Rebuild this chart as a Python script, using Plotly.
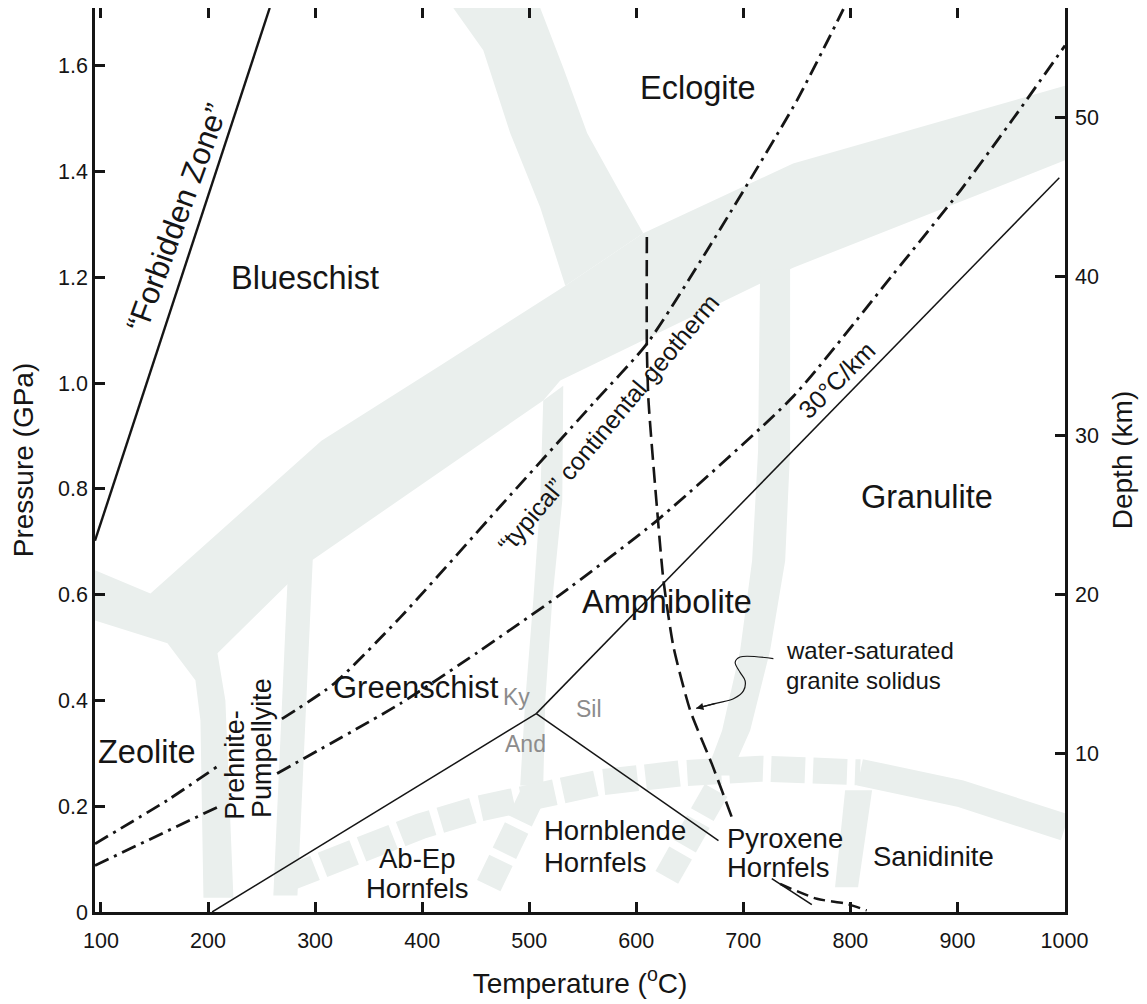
import plotly.graph_objects as go

# ---------------- axes ----------------
T_RANGE = [94.4, 1000.5]
P_RANGE = [0, 1.709]
KM_PER_GPA = 33.28
T_TICKS = [100, 200, 300, 400, 500, 600, 700, 800, 900, 1000]
P_TICKS = [0, 0.2, 0.4, 0.6, 0.8, 1.0, 1.2, 1.4, 1.6]
P_TICKTEXT = ["0", "0.2", "0.4", "0.6", "0.8", "1.0", "1.2", "1.4", "1.6"]
DEPTH_TICKS = [10, 20, 30, 40, 50]

# ---------------- curves (T in degC, P in GPa); None = gap behind a label ----------------
forbidden_T = [94.4, 257.6]
forbidden_P = [0.702, 1.709]

geo_typical_T = [94.4, 161.8, 210.0, None, 269.0, 317.3, 379.6, 473.0, 560.0, 609.9, 669.0, 750.0, 793.5]
geo_typical_P = [0.129, 0.211, 0.277, None, 0.365, 0.431, 0.557, 0.767, 0.962, 1.074, 1.260, 1.534, 1.707]

geo_30_T = [94.4, 208.5, None, 264.5, 379.6, 451.2, 529.0, 619.3, 746.8, 840.2, 902.4, 952.2, 1000.5]
geo_30_P = [0.088, 0.198, None, 0.262, 0.394, 0.490, 0.600, 0.740, 0.975, 1.206, 1.363, 1.500, 1.638]

ky_and_T = [203.8, 506.6]
ky_and_P = [0.0, 0.375]
ky_sil_T = [506.6, 995.2]
ky_sil_P = [0.375, 1.388]
and_sil_T = [506.6, 676.8]
and_sil_P = [0.375, 0.135]

solidus_T = [609.9, 609.9, 611.4, 619.3, 625.4, 634.8, 650.4, 670.6, 689.3]
solidus_P = [1.276, 1.068, 0.967, 0.765, 0.627, 0.501, 0.381, 0.280, 0.179]
solidus_low_T = [734.4, 768.7, 796.7, 815.3]
solidus_low_P = [0.053, 0.025, 0.0155, 0.003]
tick_low_T = [726.6, 764.0]
tick_low_P = [0.063, 0.014]

leader_T = [728.1, 697.0, 692.4, 697.0, 701.7, 700.1, 690.8, 675.3, 656.0]
leader_P = [0.479, 0.482, 0.472, 0.453, 0.437, 0.418, 0.403, 0.395, 0.385]

# ---------------- faded facies-boundary bands ----------------
band_main_T = [94.4, 146.2, 305.9, 417.0, 533.7, 606.5, 746.5, 1000.5, 1000.5, 746.5, 529.0,
               513.1, 296.5, 208.8, 216.2, 223.7, 195.7, 192.9, 188.2, 162.1, 94.4]
band_main_P = [0.646, 0.602, 0.891, 1.033, 1.184, 1.283, 1.415, 1.562, 1.421, 1.218, 1.005,
               0.967, 0.664, 0.489, 0.400, 0.027, 0.027, 0.362, 0.438, 0.508, 0.551]
band_eclogite_T = [429.1, 457.1, 482.3, 510.3, 533.7, 606.5, 582.2, 554.2, 531.8, 510.3]
band_eclogite_P = [1.709, 1.629, 1.472, 1.332, 1.184, 1.283, 1.370, 1.472, 1.596, 1.709]
band_pp_T = [275.1, 298.4, 283.5, 261.0]
band_pp_P = [0.664, 0.693, 0.031, 0.031]
band_gs_T = [513.1, 510.3, 503.8, 496.3, 491.6, 513.1, 515.0, 521.5, 530.9, 531.8]
band_gs_P = [0.967, 0.778, 0.589, 0.400, 0.239, 0.239, 0.400, 0.589, 0.778, 0.995]
band_amph_T = [715.7, 713.8, 708.2, 697.0, 680.2, 664.4, 687.7, 706.4, 725.0, 739.1, 743.7, 743.7]
band_amph_P = [1.213, 0.872, 0.664, 0.494, 0.343, 0.258, 0.258, 0.343, 0.494, 0.664, 0.872, 1.216]
band_san_T = [795.1, 820.3, 807.2, 785.7]
band_san_P = [0.230, 0.230, 0.047, 0.047]
band_gs_dash_T = [502.9, 460.8]
band_gs_dash_P = [0.220, 0.044]
band_amph_dash_T = [674.6, 627.0]
band_amph_dash_P = [0.230, 0.060]
band_contact_dash_T = [270.4, 332.9, 398.3, 454.3, 510.3, 566.3, 641.0, 715.7, 809.1]
band_contact_dash_P = [0.060, 0.112, 0.162, 0.196, 0.224, 0.245, 0.262, 0.271, 0.264]
band_contact_T = [809.1, 902.4, 1000.5]
band_contact_P = [0.264, 0.224, 0.160]

# ---------------- labels ----------------
big_labels = ["Blueschist", "Eclogite", "Granulite", "Amphibolite", "Greenschist", "Zeolite"]
big_T = [290.9, 657.5, 871.9, 628.6, 394.0, 143.1]
big_P = [1.198, 1.558, 0.784, 0.586, 0.425, 0.302]
big_size = [32.5, 32.5, 32.5, 32.5, 31, 32.5]

BAND = "#eaefed"
INK = "#151515"
FONT = "Liberation Sans, Arial, Helvetica, sans-serif"

fig = go.Figure()


def poly(T, P):
    fig.add_trace(go.Scatter(x=T, y=P, mode="lines", fill="toself", fillcolor=BAND,
                             line=dict(width=0, color=BAND), hoverinfo="skip", showlegend=False))


def band_line(T, P, width, dash="solid"):
    fig.add_trace(go.Scatter(x=T, y=P, mode="lines", line=dict(width=width, color=BAND, dash=dash),
                             hoverinfo="skip", showlegend=False))


for T, P in [(band_main_T, band_main_P), (band_eclogite_T, band_eclogite_P), (band_pp_T, band_pp_P),
             (band_gs_T, band_gs_P), (band_amph_T, band_amph_P), (band_san_T, band_san_P)]:
    poly(T, P)
band_line(band_gs_dash_T, band_gs_dash_P, 26, "28px,8px")
band_line(band_amph_dash_T, band_amph_dash_P, 26, "28px,8px")
band_line(band_contact_dash_T, band_contact_dash_P, 26, "34px,8px")
band_line(band_contact_T, band_contact_P, 27)


def curve(T, P, width, dash="solid", shape="linear", color=INK, smoothing=0.6):
    fig.add_trace(go.Scatter(x=T, y=P, mode="lines", connectgaps=False,
                             line=dict(width=width, color=color, dash=dash, shape=shape, smoothing=smoothing),
                             hoverinfo="skip", showlegend=False))


curve(forbidden_T, forbidden_P, 2.4)
curve(geo_typical_T, geo_typical_P, 2.8, "15px,6px,3px,6px", "spline")
curve(geo_30_T, geo_30_P, 2.8, "15px,6px,3px,6px", "spline")
curve(ky_and_T, ky_and_P, 1.5)
curve(ky_sil_T, ky_sil_P, 1.5)
curve(and_sil_T, and_sil_P, 1.5)
curve(solidus_T, solidus_P, 2.6, "16px,7px", "spline")
curve(solidus_low_T, solidus_low_P, 2.4, "12px,6px", "spline")
curve(tick_low_T, tick_low_P, 1.6)
curve(leader_T, leader_P, 1.2, "solid", "spline", smoothing=0.9)

# invisible trace to attach the depth axis
fig.add_trace(go.Scatter(x=[T_TICKS[0]], y=[DEPTH_TICKS[0]], yaxis="y2", mode="markers",
                         marker=dict(opacity=0), hoverinfo="skip", showlegend=False))

ann = []


def label(text, x, y, size, angle=0, xanchor="center", color=INK):
    ann.append(dict(x=x, y=y, xref="x", yref="y", text=text, showarrow=False, textangle=angle,
                    xanchor=xanchor, yanchor="middle", font=dict(size=size, color=color, family=FONT)))


for t, x, y, s in zip(big_labels, big_T, big_P, big_size):
    label(t, x, y, s)
label("\u201cForbidden Zone\u201d", 171.0, 1.313, 31, angle=-70)
label("Prehnite-", 225.6, 0.279, 27, angle=-90)
label("Pumpellyite", 250.8, 0.311, 27, angle=-90)
label("Ab-Ep", 395.5, 0.101, 27.5)
label("Hornfels", 395.5, 0.044, 27.5)
label("Hornblende", 511.5, 0.154, 27.5, xanchor="left")
label("Hornfels", 511.5, 0.094, 27.5, xanchor="left")
label("Pyroxene", 682.7, 0.139, 27.5, xanchor="left")
label("Hornfels", 682.7, 0.085, 27.5, xanchor="left")
label("Sanidinite", 877.5, 0.104, 27.5)
label("water-saturated", 738.0, 0.494, 24, xanchor="left")
label("granite solidus", 738.0, 0.438, 24, xanchor="left")
label("Ky", 488.5, 0.406, 23, color="#8c8c8c")
label("Sil", 555.4, 0.384, 23, color="#8c8c8c")
label("And", 496.3, 0.318, 23, color="#8c8c8c")
label("30\u00b0C/km", 787.3, 1.005, 25, angle=-45)
label("\u201ctypical\u201d continental geotherm", 574.0, 0.925, 25, angle=-50)

# arrow head of the solidus leader
ann.append(dict(x=leader_T[-1], y=leader_P[-1], ax=leader_T[-2], ay=leader_P[-2], xref="x", yref="y",
                axref="x", ayref="y", text="", showarrow=True, arrowhead=2, arrowsize=1.2,
                arrowwidth=1.2, arrowcolor=INK))

axis_common = dict(showgrid=False, zeroline=False, showline=True, linewidth=2.5, linecolor=INK,
                   ticks="inside", ticklen=10, tickwidth=2.5, tickcolor=INK,
                   tickfont=dict(size=21.5, color=INK, family=FONT))

fig.update_layout(
    width=1139, height=996,
    margin=dict(l=87, r=82, t=0, b=92, autoexpand=False),
    paper_bgcolor="white", plot_bgcolor="white",
    font=dict(family=FONT, color=INK),
    showlegend=False,
    annotations=ann,
    xaxis=dict(range=T_RANGE, tickvals=T_TICKS, mirror="ticks", ticklabelstandoff=7,
               title=dict(text="Temperature (<sup>o</sup>C)", font=dict(size=28), standoff=22),
               **axis_common),
    yaxis=dict(range=P_RANGE, tickvals=P_TICKS, ticktext=P_TICKTEXT, mirror=True,
               title=dict(text="Pressure (GPa)", font=dict(size=28), standoff=20),
               **axis_common),
    yaxis2=dict(range=[P_RANGE[0] * KM_PER_GPA, P_RANGE[1] * KM_PER_GPA], tickvals=DEPTH_TICKS,
                overlaying="y", side="right", ticklabelstandoff=3,
                title=dict(text="Depth (km)", font=dict(size=28), standoff=15),
                **axis_common),
)

fig.write_html("out.html")
